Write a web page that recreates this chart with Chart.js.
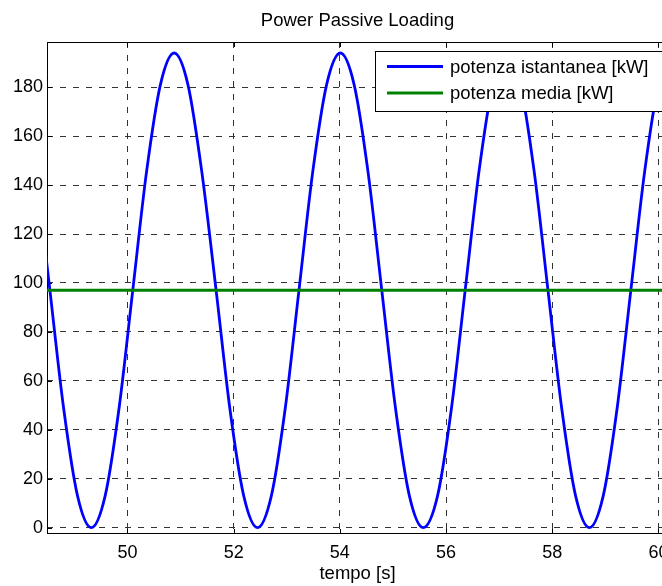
<!DOCTYPE html>
<html>
<head>
<meta charset="utf-8">
<title>Power Passive Loading</title>
<script src="https://cdn.jsdelivr.net/npm/chart.js@4/dist/chart.umd.min.js"></script>
<style>
  html, body { margin: 0; padding: 0; background: #fff; overflow: hidden; }
  #wrap { width: 680px; height: 586px; }
</style>
</head>
<body>
<div id="wrap"><canvas id="chartPotenza"></canvas></div>
<script>
// ==========================
// DATI
// ==========================
const tempo = [48.28, 48.54, 48.80, 49.06, 49.32, 49.58, 49.84, 50.10, 50.36, 50.62,
  50.88, 51.14, 51.40, 51.67, 51.93, 52.19, 52.45, 52.71, 52.97, 53.23,
  53.49, 53.75, 54.01, 54.27, 54.53, 54.79, 55.05, 55.31, 55.57, 55.84,
  56.10, 56.36, 56.62, 56.88, 57.14, 57.40, 57.66, 57.92, 58.18, 58.44,
  58.70, 58.96, 59.22, 59.48, 59.74, 60.00, 60.27, 60.53];
const potenzaIstantanea = [145.5, 97, 48.5, 13, 0, 13, 48.5, 97, 145.5, 181,
  194, 181, 145.5, 97, 48.5, 13, 0, 13, 48.5, 97,
  145.5, 181, 194, 181, 145.5, 97, 48.5, 13, 0, 13,
  48.5, 97, 145.5, 181, 194, 181, 145.5, 97, 48.5, 13,
  0, 13, 48.5, 97, 145.5, 181, 194, 181];
const tempoMedia = [48.2, 60.6];
const potenzaMedia = [97, 97];

const xTicks = [50, 52, 54, 56, 58, 60];
const yTicks = [0, 20, 40, 60, 80, 100, 120, 140, 160, 180];

const FONT = '"Liberation Sans", Arial, Helvetica, sans-serif';
Chart.defaults.font.family = FONT;
Chart.defaults.font.size = 18;
Chart.defaults.color = "#000";

// ==========================
// stile MATLAB: box, tacche interne, titolo, legenda
// ==========================
const matlabStyle = {
  id: "matlabStyle",
  beforeDatasetsDraw(chart) {
    const { ctx, chartArea: a, scales } = chart;
    ctx.save();
    ctx.strokeStyle = "#000";
    ctx.lineWidth = 1;
    ctx.beginPath();
    xTicks.forEach(v => {
      const px = Math.round(scales.x.getPixelForValue(v)) + 0.5;
      ctx.moveTo(px, a.bottom); ctx.lineTo(px, a.bottom - 5);
      ctx.moveTo(px, a.top); ctx.lineTo(px, a.top + 5);
    });
    yTicks.forEach(v => {
      const py = Math.round(scales.y.getPixelForValue(v)) + 0.5;
      ctx.moveTo(a.left, py); ctx.lineTo(a.left + 5, py);
      ctx.moveTo(a.right, py); ctx.lineTo(a.right - 5, py);
    });
    ctx.stroke();
    ctx.strokeRect(a.left + 0.5, a.top + 0.5, a.width - 1, a.height - 1);
    ctx.restore();
  },
  afterDraw(chart) {
    const { ctx, chartArea: a } = chart;
    const cx = (a.left + a.right) / 2;
    ctx.save();
    ctx.fillStyle = "#000";
    ctx.textAlign = "center";
    ctx.textBaseline = "alphabetic";
    ctx.font = "18.5px " + FONT;
    ctx.fillText("Power Passive Loading", cx, 26);
    ctx.fillText("tempo [s]", cx, 579);

    // legenda
    const lw = 290, lh = 60;
    const lx = a.right - 3 - lw, ly = a.top + 9;
    ctx.fillStyle = "#fff";
    ctx.fillRect(lx, ly, lw, lh);
    ctx.strokeStyle = "#000";
    ctx.lineWidth = 1;
    ctx.strokeRect(Math.round(lx) + 0.5, Math.round(ly) + 0.5, lw, lh);
    const voci = [
      { testo: "potenza istantanea [kW]", colore: "#0000ff", dy: 15.5 },
      { testo: "potenza media [kW]", colore: "#008000", dy: 42 }
    ];
    ctx.textAlign = "left";
    ctx.textBaseline = "middle";
    voci.forEach(v => {
      ctx.strokeStyle = v.colore;
      ctx.lineWidth = 3;
      ctx.beginPath();
      ctx.moveTo(lx + 12, ly + v.dy);
      ctx.lineTo(lx + 68, ly + v.dy);
      ctx.stroke();
      ctx.fillStyle = "#000";
      ctx.fillText(v.testo, lx + 75, ly + v.dy + 1);
    });
    ctx.restore();
  }
};

// ==========================
// GRAFICO
// ==========================
document.addEventListener("DOMContentLoaded", () => {
  new Chart(document.getElementById("chartPotenza"), {
    type: "line",
    data: {
      datasets: [{
        label: "potenza media [kW]",
        data: tempoMedia.map((t, i) => ({ x: t, y: potenzaMedia[i] })),
        borderColor: "#008000",
        borderWidth: 3,
        pointRadius: 0,
        fill: false
      }, {
        label: "potenza istantanea [kW]",
        data: tempo.map((t, i) => ({ x: t, y: potenzaIstantanea[i] })),
        borderColor: "#0000ff",
        borderWidth: 2.8,
        pointRadius: 0,
        cubicInterpolationMode: "monotone",
        fill: false
      }]
    },
    options: {
      responsive: true,
      maintainAspectRatio: false,
      animation: false,
      layout: { padding: { top: 42, right: 12, left: 0, bottom: 0 } },
      plugins: {
        legend: { display: false },
        tooltip: { enabled: false },
        title: { display: false }
      },
      scales: {
        x: {
          type: "linear",
          min: 48.485,
          max: 60.18,
          afterBuildTicks: s => { s.ticks = xTicks.map(v => ({ value: v })); },
          afterFit: s => { s.height = 52; },
          ticks: { padding: 8, maxRotation: 0, autoSkip: false },
          grid: { color: "#333", drawTicks: false, lineWidth: 1 },
          border: { display: false, dash: [6, 7] }
        },
        y: {
          min: -2.6,
          max: 198.5,
          afterBuildTicks: s => { s.ticks = yTicks.map(v => ({ value: v })); },
          afterFit: s => { s.width = 47; },
          ticks: { padding: 4, autoSkip: false },
          grid: { color: "#333", drawTicks: false, lineWidth: 1 },
          border: { display: false, dash: [6, 7] }
        }
      }
    },
    plugins: [matlabStyle]
  });
});
</script>
</body>
</html>
